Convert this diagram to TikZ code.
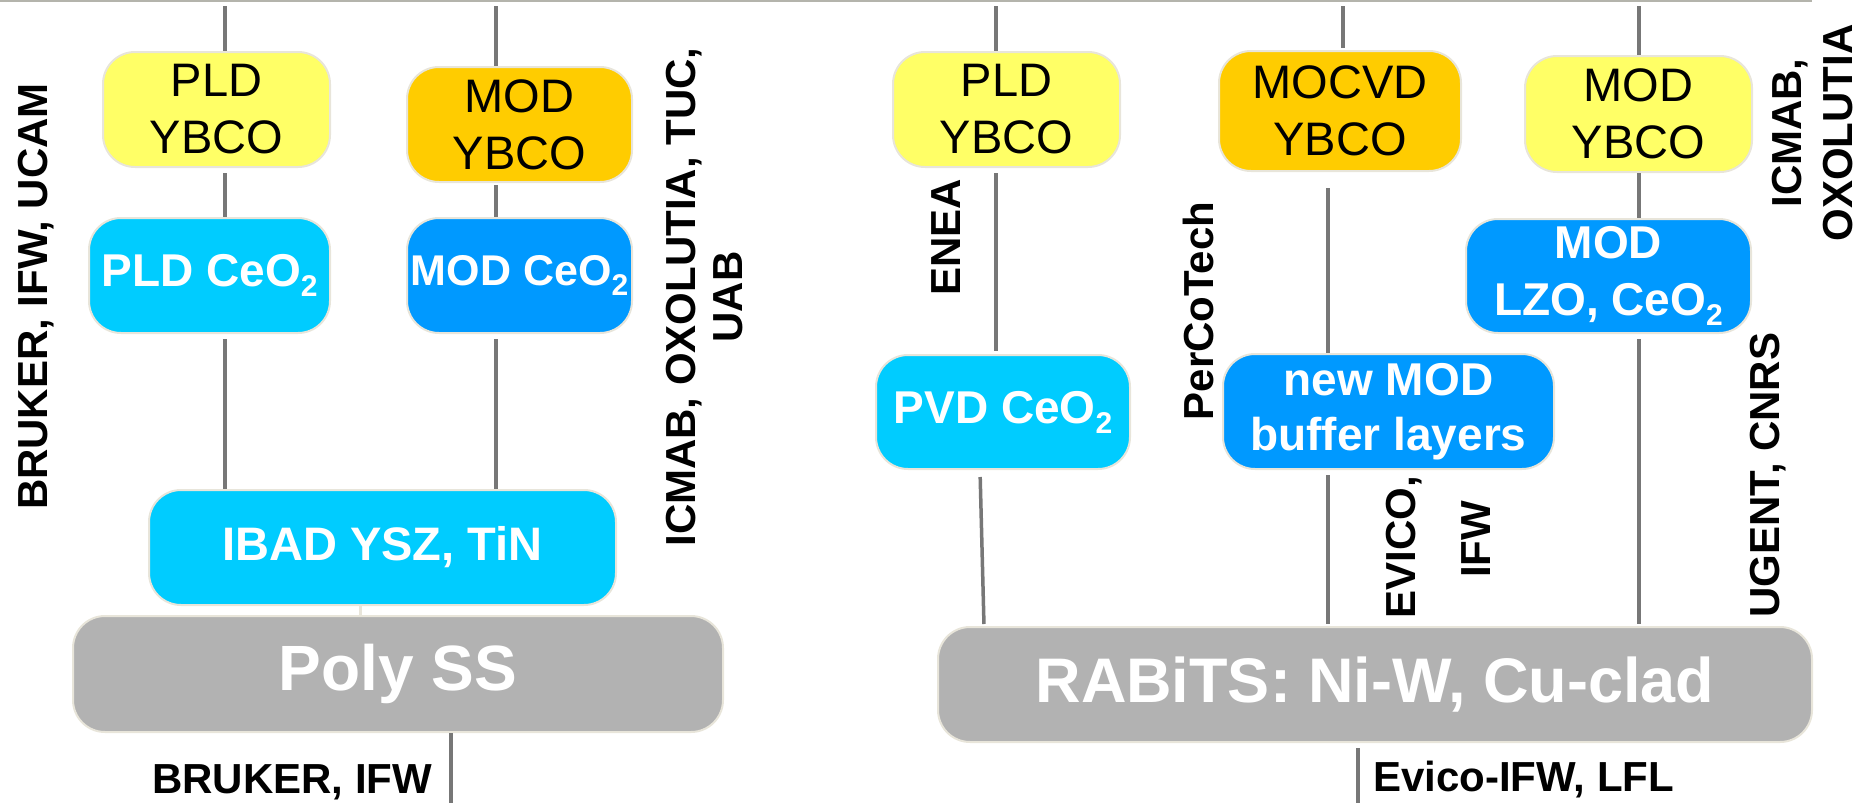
\documentclass[tikz,border=0pt]{standalone}
\usepackage{fontspec}
\setmainfont{Liberation Sans}
\definecolor{yel}{HTML}{FFFF66}
\definecolor{org}{HTML}{FFCC00}
\definecolor{cyb}{HTML}{00CCFF}
\definecolor{blb}{HTML}{0099FF}
\definecolor{gry}{HTML}{B2B2B2}
\definecolor{bord}{HTML}{E8E5DA}
\definecolor{linec}{HTML}{777777}
\definecolor{topl}{HTML}{B4B4AC}
\newcommand{\subtwo}{\raisebox{-10pt}{\fontsize{30}{30}\selectfont 2}}
\tikzset{
  box/.style={rectangle, rounded corners=32pt, draw=bord, line width=2pt, inner sep=0pt, align=center},
  ybox/.style={box, fill=yel, font=\fontsize{47}{57}\selectfont},
  obox/.style={box, fill=org, font=\fontsize{47}{57}\selectfont},
  cbox/.style={box, fill=cyb, text=white, font=\bfseries\fontsize{46}{57}\selectfont},
  bbox/.style={box, fill=blb, text=white, font=\bfseries\fontsize{46}{57}\selectfont},
  gbox/.style={box, fill=gry, text=white, font=\bfseries\fontsize{64}{70}\selectfont},
  conn/.style={draw=linec, line width=3.5pt},
  faint/.style={draw=bord, line width=3pt},
  lbl/.style={font=\bfseries\fontsize{42}{47}\selectfont, inner sep=0pt, align=center},
  vlbl/.style={lbl, rotate=90},
}
\begin{document}
\begin{tikzpicture}[x=1pt,y=-1pt]
\useasboundingbox (0,0) rectangle (1870,803);
\draw[topl, line width=2pt] (0,1) -- (1812,1);

% left stack
\node[ybox, minimum width=227pt, minimum height=115pt] (py1) at (216.5,109.5) {PLD\\YBCO};
\node[obox, minimum width=225pt, minimum height=115pt] (my1) at (519.5,124.5) {MOD\\YBCO};
\node[cbox, minimum width=241pt, minimum height=115pt] (pc1) at (209.5,275.5) {PLD CeO\subtwo};
\node[bbox, minimum width=225pt, minimum height=115pt, font=\bfseries\fontsize{43}{57}\selectfont] (mc1) at (519.5,275.5) {MOD CeO\subtwo};
\node[cbox, minimum width=467pt, minimum height=115pt, font=\bfseries\fontsize{47}{57}\selectfont] (ibad) at (382.5,547.5) {IBAD YSZ, TiN};
\node[gbox, minimum width=650pt, minimum height=116pt] (poly) at (398,674) {Poly SS};

% right stack
\node[ybox, minimum width=227pt, minimum height=115pt] (py2) at (1006.5,109.5) {PLD\\YBCO};
\node[obox, minimum width=242pt, minimum height=120pt] (mocvd) at (1340,111) {MOCVD\\YBCO};
\node[ybox, minimum width=227pt, minimum height=116pt] (my2) at (1638.5,114) {MOD\\YBCO};
\node[bbox, minimum width=285pt, minimum height=114pt] (lzo) at (1608.5,276) {MOD\\LZO, CeO\subtwo};
\node[cbox, minimum width=254pt, minimum height=114pt] (pvd) at (1003,412) {PVD CeO\subtwo};
\node[bbox, minimum width=331pt, minimum height=115pt, font=\bfseries\fontsize{46}{55}\selectfont] (newmod) at (1388.5,411.5) {new MOD\\buffer layers};
\node[gbox, minimum width=874pt, minimum height=115pt, font=\bfseries\fontsize{63}{70}\selectfont] (rabits) at (1375,684.5) {RABiTS: Ni-W, Cu-clad};

% connector coordinates
\coordinate (ta) at (225,6);
\coordinate (tb) at (496,6);
\coordinate (xc) at (360,0);
\coordinate (bd) at (451,803);
\coordinate (te) at (996,6);
\coordinate (tf) at (1343,6);
\coordinate (xf) at (1328,0);
\coordinate (tg) at (1639,6);
\coordinate (pa) at (980,0);
\coordinate (pb) at (984,0);
\coordinate (bh) at (1358,803);

% left connectors
\draw[conn] (ta) -- (py1.north -| ta);
\draw[conn, shorten <=5pt] (py1.south -| ta) -- (pc1.north -| ta);
\draw[conn, shorten <=5pt] (pc1.south -| ta) -- (ibad.north -| ta);
\draw[conn] (tb) -- (my1.north -| tb);
\draw[conn, shorten <=2pt] (my1.south -| tb) -- (mc1.north -| tb);
\draw[conn, shorten <=5pt] (mc1.south -| tb) -- (ibad.north -| tb);
\draw[faint] (ibad.south -| xc) -- (poly.north -| xc);
\draw[conn] (poly.south -| bd) -- (bd);

% right connectors
\draw[conn] (te) -- (py2.north -| te);
\draw[conn, shorten <=5pt, shorten >=3pt] (py2.south -| te) -- (pvd.north -| te);
\draw[conn, shorten <=7pt, shorten >=2pt] (pvd.south -| pa) -- (rabits.north -| pb);
\draw[conn, shorten >=2pt] (tf) -- (mocvd.north -| tf);
\draw[conn, shorten <=16pt] (mocvd.south -| xf) -- (newmod.north -| xf);
\draw[conn, shorten <=5pt, shorten >=2pt] (newmod.south -| xf) -- (rabits.north -| xf);
\draw[conn] (tg) -- (my2.north -| tg);
\draw[conn] (my2.south -| tg) -- (lzo.north -| tg);
\draw[conn, shorten <=5pt, shorten >=2pt] (lzo.south -| tg) -- (rabits.north -| tg);
\draw[conn, shorten <=5pt] (rabits.south -| bh) -- (bh);

% labels
\node[vlbl, anchor=base] (l1) at (47,296.5) {BRUKER, IFW, UCAM};
\node[vlbl, font=\bfseries\fontsize{42}{47}\selectfont] (l2) at (705,297) {ICMAB, OXOLUTIA, TUC,\\UAB};
\node[vlbl, anchor=base] (l3) at (960,237.5) {ENEA};
\node[vlbl, anchor=base] (l4) at (1213,311) {PerCoTech};
\node[vlbl, font=\bfseries\fontsize{42}{51}\selectfont] (l5) at (1812.5,133) {ICMAB,\\OXOLUTIA};
\node[vlbl, anchor=base] (l6) at (1779,475) {UGENT, CNRS};
\node[vlbl, anchor=base] (l7) at (1415,547.5) {EVICO,};
\node[vlbl, anchor=base] (l8) at (1490,539.5) {IFW};
\node[lbl, anchor=base west] (l9) at (152,793) {BRUKER, IFW};
\node[lbl, anchor=base west] (l10) at (1373,791) {Evico-IFW, LFL};
\end{tikzpicture}
\end{document}
